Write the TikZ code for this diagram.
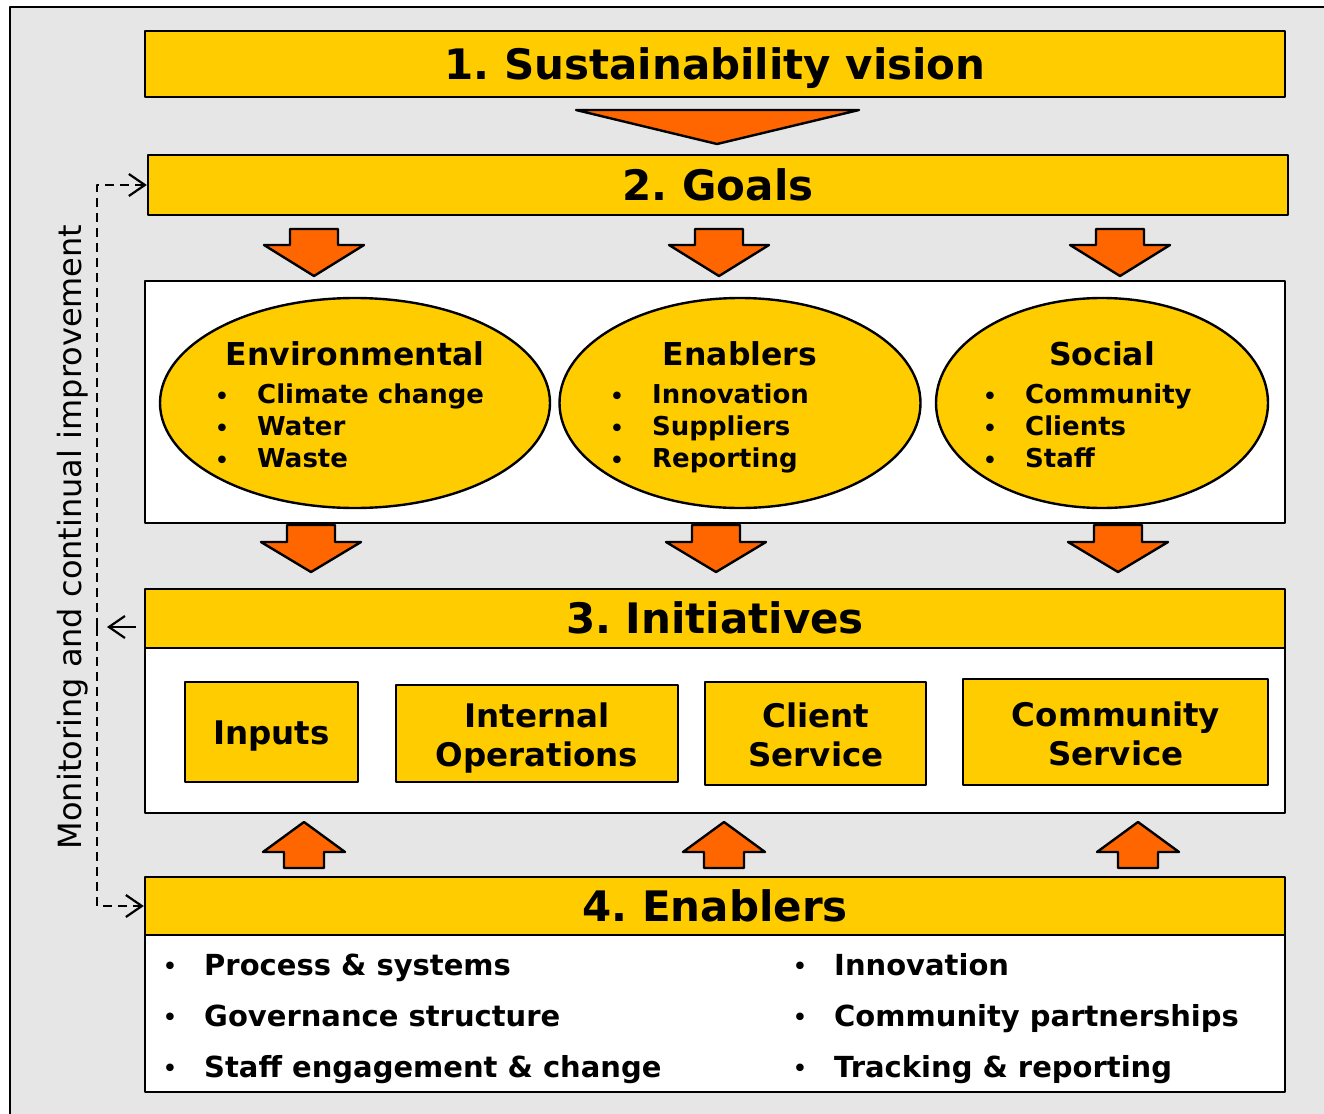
\documentclass[tikz,border=0pt]{standalone}
\usepackage{fontspec}
\setmainfont{DejaVu Sans}
\frenchspacing
\usetikzlibrary{shapes.geometric,arrows.meta}
\definecolor{gold}{HTML}{FFCC00}
\definecolor{flame}{HTML}{FF6600}
\definecolor{panel}{HTML}{E6E6E6}
\begin{document}
\begin{tikzpicture}[x=1pt, y=-1pt, line join=round, line width=2.4pt,
    hdr/.style={draw, fill=gold, inner sep=0pt, text height=30.7pt, text depth=0pt, font=\fontsize{42}{46}\selectfont\bfseries},
    body/.style={draw, fill=white, inner sep=0pt},
    oval/.style={ellipse, draw, fill=gold, inner sep=0pt},
    ttl/.style={inner sep=0pt, text height=23pt, text depth=0pt, font=\fontsize{31.5}{34}\selectfont\bfseries},
    item/.style={anchor=west, inner sep=0pt, text height=19pt, text depth=0pt, font=\fontsize{26}{28}\selectfont\bfseries},
    dot/.style={inner sep=0pt, font=\fontsize{26}{26}\selectfont},
    cell/.style={draw, fill=gold, inner sep=0pt},
    celltext/.style={inner sep=0pt, align=center, font=\fontsize{32.5}{39}\selectfont\bfseries},
    listitem/.style={anchor=west, inner sep=0pt, text height=21.2pt, text depth=0pt, font=\fontsize{29}{32}\selectfont\bfseries},
    blockarrow/.style={draw, fill=flame, line width=2.4pt},
    loop/.style={dashed, dash pattern=on 9pt off 6pt, line width=2.2pt, -{Straight Barb[length=16pt,width=22pt]}}]
    \useasboundingbox (0,0) rectangle (1324,1113);
    \draw[fill=panel] (10,7) rectangle (1340,1130);
    % 1. vision
    \node[hdr, minimum width=1140pt, minimum height=66pt] (vision) at (715,64) {1. Sustainability vision};
    \draw[blockarrow] (576,110) -- (859,110) -- (717,144) -- cycle;
    % 2. goals
    \node[hdr, minimum width=1140pt, minimum height=60pt] (goals) at (718,185) {2. Goals};
    \foreach \cx in {314,719,1120}
        \draw[blockarrow] ({\cx-24},229) -- ({\cx+24},229) -- ({\cx+24},245) -- ({\cx+50},245) -- (\cx,276) -- ({\cx-50},245) -- ({\cx-24},245) -- cycle;
    \node[body, minimum width=1140pt, minimum height=242pt] (pillars) at (715,402) {};
    \node[oval, minimum width=390pt, minimum height=210pt] (env) at (355,403) {};
    \node[oval, minimum width=361pt, minimum height=210pt] (ena) at (740,403) {};
    \node[oval, minimum width=332pt, minimum height=210pt] (soc) at (1102,403) {};
    \node[ttl] (envt) at (355,354) {Environmental};
    \node[ttl] (enat) at (740,354) {Enablers};
    \node[ttl] (soct) at (1102,354) {Social};
    \foreach \bx/\tx/\lst in {222/256/{Climate change,Water,Waste}, 617/651/{Innovation,Suppliers,Reporting}, 990/1024/{Community,Clients,Staff}}
        \foreach \entry [count=\i] in \lst {
            \node[dot] (d\bx\i) at (\bx,{367+32*\i}) {•};
            \node[item] (t\bx\i) at (\tx,{362+32*\i}) {\entry};
        }
    \foreach \cx in {311,716,1118}
        \draw[blockarrow] ({\cx-24},525) -- ({\cx+24},525) -- ({\cx+24},542) -- ({\cx+50},542) -- (\cx,572) -- ({\cx-50},542) -- ({\cx-24},542) -- cycle;
    % 3. initiatives
    \node[body, minimum width=1140pt, minimum height=165pt] (initbody) at (715,730.5) {};
    \node[hdr, minimum width=1140pt, minimum height=59pt] (init) at (715,618.5) {3. Initiatives};
    \node[cell, minimum width=173pt, minimum height=100pt] (inputs) at (271.5,732) {};
    \node[cell, minimum width=282pt, minimum height=97pt] (internal) at (537,733.5) {};
    \node[cell, minimum width=221pt, minimum height=103pt] (client) at (815.5,733.5) {};
    \node[cell, minimum width=305pt, minimum height=106pt] (community) at (1115.5,732) {};
    \node[celltext] (inputst) at (271.5,736) {Inputs};
    \node[celltext] (internalt) at (537,738) {Internal\\Operations};
    \node[celltext] (clientt) at (816,735) {Client\\Service};
    \node[celltext] (communityt) at (1116,734) {Community\\Service};
    \foreach \cx in {304,724,1138}
        \draw[blockarrow] ({\cx-20},868) -- ({\cx+20},868) -- ({\cx+20},852) -- ({\cx+41},852) -- (\cx,822) -- ({\cx-41},852) -- ({\cx-20},852) -- cycle;
    % 4. enablers
    \node[body, minimum width=1140pt, minimum height=157pt] (enabbody) at (715,1013.5) {};
    \node[hdr, minimum width=1140pt, minimum height=58pt] (enab) at (715,906) {4. Enablers};
    \foreach \entry [count=\i] in {Process \& systems, Governance structure, Staff engagement \& change} {
        \node[dot] (ld\i) at (170,{918+51*\i}) {•};
        \node[listitem] (lt\i) at (203,{914+51*\i}) {\entry};
    }
    \foreach \entry [count=\i] in {Innovation, Community partnerships, Tracking \& reporting} {
        \node[dot] (rd\i) at (800,{918+51*\i}) {•};
        \node[listitem] (rt\i) at (833,{914+51*\i}) {\entry};
    }
    % monitoring loop
    \coordinate (loopmid) at (97,627);
    \draw[loop] (loopmid) |- (goals.west);
    \draw[loop] (loopmid) |- (enab.west);
    \draw[loop, dash pattern=, shorten >=10pt] ([yshift=-8.5pt]init.west) ++(-8,0) -- (loopmid);
    \node[rotate=90, inner sep=0pt, font=\fontsize{32}{34}\selectfont] (monitor) at (73,537) {Monitoring and continual improvement};
\end{tikzpicture}
\end{document}
